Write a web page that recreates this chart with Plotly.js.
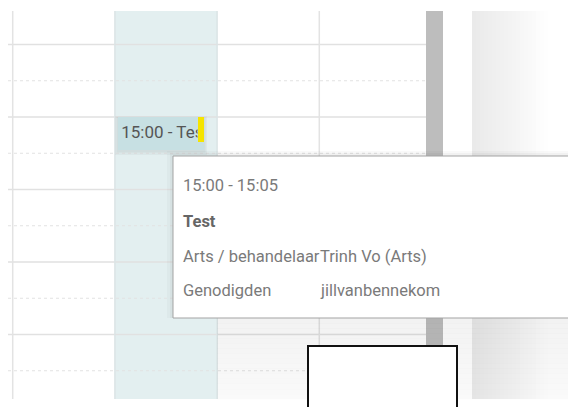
<!DOCTYPE html>
<html>
<head>
<meta charset="utf-8">
<script src="https://cdn.plot.ly/plotly-3.0.1.min.js"></script>
<style>
  html, body { margin: 0; padding: 0; background: #ffffff; }
  #chart { width: 568px; height: 407px; }
</style>
</head>
<body>
<div id="chart"></div>
<script>
// ---- calendar data ----
const dayColumns = ['maandag', 'dinsdag', 'woensdag', 'donderdag'];
const todayIndex = 1;
const hourLines = [14, 15, 16, 17, 18];
const halfHourLines = [14.5, 15.5, 16.5, 17.5, 18.5];
const eventDay = 1;
const eventStart = 15;            // 15:00
const eventEnd = 15 + 5 / 60;     // 15:05
const eventLabel = '15:00 - Test';
const popupTime = '15:00 - 15:05';
const popupTitle = 'Test';
const popupLabels = ['Arts / behandelaar', 'Genodigden'];
const popupValues = ['Trinh Vo (Arts)', 'jillvanbennekom'];

// ---- pixel <-> data helpers (layout geometry only) ----
const W = 568, H = 407;
const colW = 102.2, colLeft = 12.7;
const hourH = 72.5, refHour = 15, refPx = 117;
const Xd = px => (px - colLeft) / colW;
const Yd = px => refHour + (px - refPx) / hourH;
const Xp = d => colLeft + d * colW;
const Yp = h => refPx + (h - refHour) * hourH;

const gridTop = Yd(11), gridBottom = Yd(399);
const gridLeft = Xd(8), gridRight = Xd(426);

const shapes = [];
const rect = (x0, y0, x1, y1, fill, line, layer) => ({
  type: 'rect', xref: 'x', yref: 'y', x0, y0, x1, y1,
  fillcolor: fill, line: line || {width: 0}, layer: layer || 'below'
});
function strips(px0, px1, py0, py1, n, horizontal, colorAt, layer) {
  for (let i = 0; i < n; i++) {
    const t0 = i / n, t1 = (i + 1) / n, c = colorAt((t0 + t1) / 2);
    if (horizontal) shapes.push(rect(Xd(px0 + (px1 - px0) * t0), Yd(py0), Xd(px0 + (px1 - px0) * t1 + 0.3), Yd(py1), c, null, layer));
    else shapes.push(rect(Xd(px0), Yd(py0 + (py1 - py0) * t0), Xd(px1), Yd(py0 + (py1 - py0) * t1 + 0.3), c, null, layer));
  }
}

// today column highlight
shapes.push(rect(todayIndex, gridTop, todayIndex + 1, gridBottom, '#e3eff0'));

// hour lines (solid) and half-hour lines (dotted)
hourLines.forEach(h => shapes.push({type: 'line', xref: 'x', yref: 'y', x0: gridLeft, x1: gridRight, y0: h, y1: h,
  line: {color: '#e1e1e1', width: 1.5}, layer: 'below'}));
halfHourLines.forEach(h => shapes.push({type: 'line', xref: 'x', yref: 'y', x0: gridLeft, x1: gridRight, y0: h, y1: h,
  line: {color: '#e2e2e2', width: 1, dash: 'dot'}, layer: 'below'}));

// column separators
dayColumns.forEach((d, i) => shapes.push({type: 'line', xref: 'x', yref: 'y', x0: i, x1: i, y0: gridTop, y1: gridBottom,
  line: {color: i === todayIndex || i === todayIndex + 1 ? '#dbe4e5' : '#e3e3e3', width: 1.5}, layer: 'below'}));

// scrollbar
shapes.push(rect(Xd(426), gridTop, Xd(443), gridBottom, '#bdbdbd'));

// right side panel gradient
strips(472, 568, 11, 399, 24, true, t => {
  const v = Math.round(234 + 21 * Math.min(1, Math.pow(t / 0.8, 1.2)));
  return `rgb(${v},${v},${v})`;
});

// event box (min height in px) with shadow
const evPx0 = 118, evPx1 = 204;
const evX0 = eventDay + (evPx0 - Xp(eventDay)) / colW, evX1 = eventDay + (evPx1 - Xp(eventDay)) / colW;
const evY0 = eventStart, evY1 = Math.max(eventEnd, Yd(Yp(eventStart) + 33));
shapes.push(rect(evX0 - 0.03, evY0 - 0.01, evX1 + 0.03, evY1 + 0.07, 'rgba(0,0,0,0.03)'));
shapes.push(rect(evX0 - 0.015, evY0, evX1 + 0.015, evY1 + 0.035, 'rgba(0,0,0,0.045)'));
shapes.push(rect(evX0, evY0, evX1, evY1, '#c7e0e3'));

// yellow status bar
shapes.push(rect(evX1 - 6 / colW, evY0, evX1, Yd(Yp(eventStart) + 25), '#f5e400', null, 'above'));

// shadow cast below the popup
strips(217, 568, 318, 399, 16, false, t => `rgba(0,0,0,${(0.05 - 0.03 * t).toFixed(4)})`, 'above');

// popup shadow + popup
const pX0 = Xd(173), pX1 = Xd(575), pY0 = Yd(156), pY1 = Yd(318);
shapes.push(rect(Xd(167), Yd(151), pX1, Yd(318), 'rgba(0,0,0,0.025)', null, 'above'));
shapes.push(rect(Xd(170), Yd(153), pX1, Yd(318), 'rgba(0,0,0,0.03)', null, 'above'));
shapes.push(rect(pX0, pY0, pX1, pY1, '#ffffff', {color: '#a3a3a3', width: 1}, 'above'));

// black-bordered box
shapes.push(rect(Xd(308), Yd(346), Xd(457), Yd(412), '#ffffff', {color: '#111111', width: 2}, 'above'));

// event label lives in a small clipping subplot covering the event box up to the yellow bar
const clipPx0 = evPx0, clipPx1 = evPx1 - 6.5;
const evTop = Yp(evY0), evBot = Yp(evY1);
const traces = [
  {type: 'scatter', mode: 'text', xaxis: 'x2', yaxis: 'y2',
   x: [121.2], y: [134], text: [eventLabel],
   textposition: 'middle right', textfont: {family: 'Roboto', size: 17, color: '#555555'},
   cliponaxis: true, hoverinfo: 'skip', showlegend: false}
];

const annFont = {family: 'Roboto', size: 16.5, color: '#7a7a7a'};
const ann = (x, y, text, font) => ({xref: 'x', yref: 'y', x, y, text, showarrow: false,
  xanchor: 'left', yanchor: 'middle', font: font || annFont});
const labelX = Xd(181), valueX = Xd(318);
const rowYs = [Yd(185), Yd(221), Yd(256), Yd(290)];
const annotations = [
  ann(labelX, rowYs[0], popupTime),
  ann(labelX, rowYs[1], '<b>' + popupTitle + '</b>', {family: 'Roboto', size: 16.5, color: '#666666'}),
];
popupLabels.forEach((l, i) => {
  annotations.push(ann(labelX, rowYs[2 + i], l));
  annotations.push(ann(valueX, rowYs[2 + i], popupValues[i]));
});

const layout = {
  width: W, height: H,
  margin: {l: 0, r: 0, t: 0, b: 0, pad: 0},
  paper_bgcolor: '#ffffff', plot_bgcolor: 'rgba(0,0,0,0)',
  xaxis: {range: [Xd(0), Xd(W)], visible: false, fixedrange: true, domain: [0, 1]},
  yaxis: {range: [Yd(H), Yd(0)], visible: false, fixedrange: true, domain: [0, 1]},
  xaxis2: {domain: [clipPx0 / W, clipPx1 / W], range: [clipPx0, clipPx1], anchor: 'y2', visible: false, fixedrange: true},
  yaxis2: {domain: [1 - evBot / H, 1 - evTop / H], range: [evBot, evTop], anchor: 'x2', visible: false, fixedrange: true},
  shapes, annotations, showlegend: false
};

Plotly.newPlot('chart', traces, layout, {staticPlot: true, displayModeBar: false});
</script>
</body>
</html>
